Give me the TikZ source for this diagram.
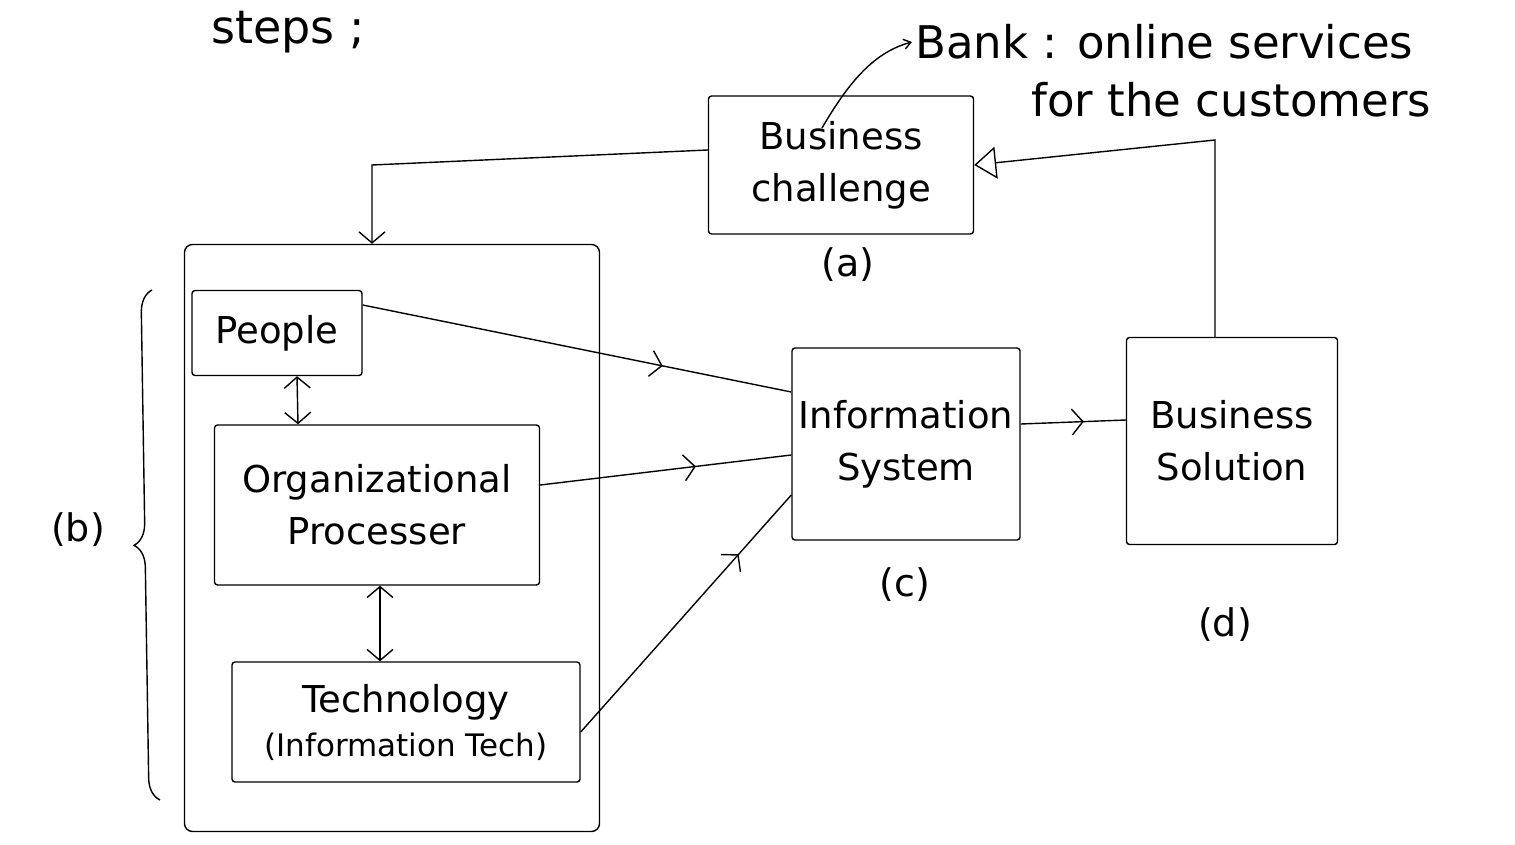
\documentclass[tikz,border=0pt]{standalone}
\usepackage{fontspec}
\setmainfont{DejaVu Sans}
\usetikzlibrary{arrows.meta,decorations.markings,decorations.pathreplacing}
\begin{document}
\begin{tikzpicture}[x=1pt,y=-1pt,
  ink/.style={line width=1.4pt, black},
  box/.style={ink, draw, rounded corners=3pt, align=center, inner sep=0pt,
    font=\fontsize{37}{52}\selectfont},
  tag/.style={font=\fontsize{38}{40}\selectfont},
  note/.style={font=\fontsize{45}{48}\selectfont, anchor=west},
  barb/.tip={Straight Barb[length=11pt,width=26pt,line width=1.4pt]},
  smallbarb/.tip={Straight Barb[length=7pt,width=10pt,line width=1.4pt]},
  hollow/.tip={Triangle[open,length=22pt,width=32pt,line width=1.4pt]},
  midarrow/.style={postaction={decorate},
    decoration={markings, mark=at position #1 with {\arrow{barb}}}},
]
\useasboundingbox (0,0) rectangle (1515,845);

% heading
\node[font=\fontsize{46}{48}\selectfont] (title) at (288,32) {steps ;};

% (a) business challenge
\node[box, minimum width=265pt, minimum height=138pt] (bc) at (841,165) {Business\\challenge};
\node[tag] (la) at (848,265) {(a)};

% annotation
\node[note] (bank1) at (912,42) {Bank : online services};
\node[note] (bank2) at (1028,100) {for the customers};
\draw[ink, -smallbarb] ([xshift=-19pt,yshift=37pt]bc.center)
  .. controls (850,80) and (875,52) .. (bank1.west);

% (b) the three components
\node[ink, draw, rounded corners=8pt, minimum width=415pt, minimum height=587pt] (grp) at (392,538) {};
\node[box, minimum width=170pt, minimum height=85pt] (ppl) at (277,333) {People};
\node[box, minimum width=325pt, minimum height=160pt] (org) at (377,505) {Organizational\\Processer};
\node[box, minimum width=348pt, minimum height=120pt, font=\fontsize{31}{44}\selectfont] (tech) at (406,722)
  {\fontsize{37}{44}\selectfont Technology\\(Information Tech)};
\coordinate (brb) at (160,800);
\coordinate (brt) at (152,290);
\draw[ink, decorate, decoration={brace, amplitude=22pt}] (brb) -- (brt);
\node[tag] (lb) at (78,530) {(b)};

\draw[ink, {barb}-{barb}] ([xshift=20pt]ppl.south) -- ([xshift=-79pt]org.north);
\draw[ink, {barb}-{barb}] ([xshift=3pt]org.south) -- ([xshift=-26pt]tech.north);

% (c) information system
\node[box, minimum width=228pt, minimum height=192pt] (is) at (906,444) {Information\\System};
\node[tag] (lc) at (905,585) {(c)};

% (d) business solution
\node[box, minimum width=211pt, minimum height=207pt] (bs) at (1232,441) {Business\\Solution};
\node[tag] (ld) at (1225,625) {(d)};

% flows
\draw[ink, midarrow=0.7] ([yshift=28pt]ppl.east) -- ([yshift=52pt]is.west);
\draw[ink, midarrow=0.62] ([yshift=20pt]org.east) -- ([yshift=-11pt]is.west);
\draw[ink, midarrow=0.75] ([yshift=-10pt]tech.east) -- ([yshift=-51pt]is.west);
\draw[ink, midarrow=0.6] ([yshift=20pt]is.east) -- ([yshift=21pt]bs.west);

% feedback loops
\coordinate (c1) at (372,165);
\draw[ink, -barb] ([yshift=15pt]bc.west) -- (c1) -- (c1 |- grp.north);
\coordinate (c2) at (1215,140);
\draw[ink, -hollow] ([xshift=-17pt]bs.north) -- (c2) -- (bc.east);
\end{tikzpicture}
\end{document}
